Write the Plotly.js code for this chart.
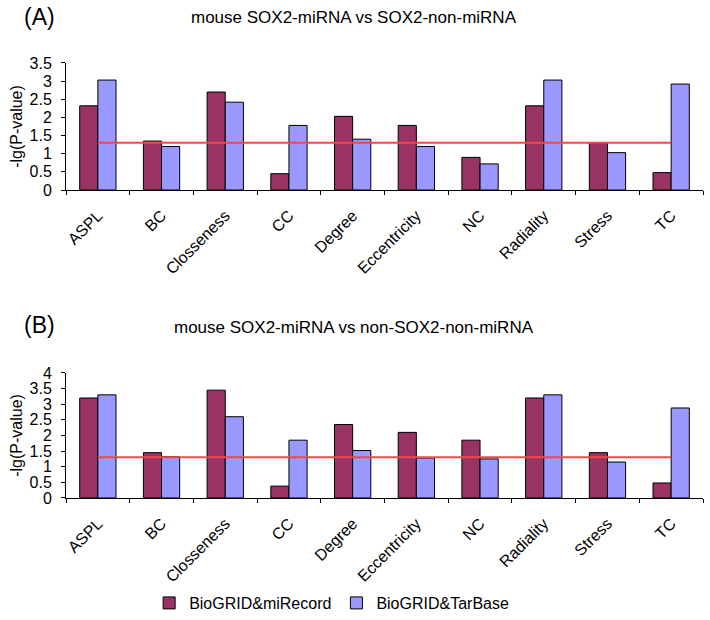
<!DOCTYPE html>
<html>
<head>
<meta charset="utf-8">
<script src="https://cdn.plot.ly/plotly-3.0.1.min.js"></script>
<style>
  body { margin: 0; background: #fff; }
  #chart { width: 710px; height: 620px; }
</style>
</head>
<body>
<div id="chart"></div>
<script>
// categories (network measures)
var measures = ["ASPL", "BC", "Closseness", "CC", "Degree", "Eccentricity", "NC", "Radiality", "Stress", "TC"];

// panel A: mouse SOX2-miRNA vs SOX2-non-miRNA
var aMiRecord = [2.32, 1.35, 2.7, 0.45, 2.03, 1.78, 0.9, 2.32, 1.3, 0.48];
var aTarBase  = [3.03, 1.2, 2.42, 1.78, 1.4, 1.2, 0.72, 3.03, 1.03, 2.92];

// panel B: mouse SOX2-miRNA vs non-SOX2-non-miRNA
var bMiRecord = [3.2, 1.45, 3.45, 0.38, 2.35, 2.1, 1.85, 3.2, 1.45, 0.48];
var bTarBase  = [3.3, 1.32, 2.6, 1.85, 1.52, 1.28, 1.25, 3.3, 1.15, 2.88];

// significance threshold, -lg(0.05)
var threshold = measures.map(() => 1.3);

var maroon = "#993366";
var lilac = "#9999ff";
var font = "Liberation Sans, Arial, sans-serif";

function bars(y, name, color, xa, ya, showleg) {
    return {
        x: measures, y: y, name: name, type: "bar",
        xaxis: xa, yaxis: ya, showlegend: showleg,
        marker: {color: color, line: {color: "#000", width: 1}}
    };
}
function redLine(xa, ya) {
    return {
        x: measures, y: threshold, type: "scatter", mode: "lines",
        xaxis: xa, yaxis: ya, showlegend: false,
        line: {color: "#f04848", width: 2}
    };
}

var data = [
    bars(aMiRecord, "BioGRID&miRecord", maroon, "x", "y", true),
    bars(aTarBase, "BioGRID&TarBase", lilac, "x", "y", true),
    redLine("x", "y"),
    bars(bMiRecord, "BioGRID&miRecord", maroon, "x2", "y2", false),
    bars(bTarBase, "BioGRID&TarBase", lilac, "x2", "y2", false),
    redLine("x2", "y2")
];

function xAxis(anchor) {
    return {
        anchor: anchor, domain: [0, 1], type: "category",
        showline: true, linecolor: "#000", linewidth: 1,
        ticks: "outside", tickson: "boundaries", ticklen: 4, tickcolor: "#000",
        tickangle: -45, ticklabelstandoff: 9, ticklabeloverflow: "allow",
        tickfont: {family: font, size: 16, color: "#000"},
        showgrid: false, zeroline: false
    };
}
function yAxis(anchor, domain, top) {
    return {
        anchor: anchor, domain: domain, range: [0, top], dtick: 0.5,
        showline: true, linecolor: "#000", linewidth: 1,
        ticks: "outside", ticklen: 4, tickcolor: "#000", ticklabelstandoff: 6,
        tickfont: {family: font, size: 16, color: "#000"},
        showgrid: false, zeroline: false,
        title: {text: "-lg(P-value)", font: {family: font, size: 16, color: "#000"}, standoff: 2}
    };
}

var layout = {
    width: 710, height: 620,
    margin: {l: 66, r: 7, t: 0, b: 0},
    paper_bgcolor: "#fff", plot_bgcolor: "#fff",
    barmode: "group", bargap: 0.43, bargroupgap: 0,
    xaxis: xAxis("y"),
    yaxis: yAxis("x", [0.6935, 0.8984], 3.5),
    xaxis2: xAxis("y2"),
    yaxis2: yAxis("x2", [0.1968, 0.3984], 4),
    legend: {
        orientation: "h", x: 0.417, xanchor: "center", y: 0, yanchor: "bottom",
        bgcolor: "rgba(0,0,0,0)",
        font: {family: font, size: 16, color: "#000"}, traceorder: "normal"
    },
    annotations: [
        {text: "(A)", xref: "paper", yref: "paper", x: -0.069, y: 1 - 17 / 620, xanchor: "left", yanchor: "middle",
         showarrow: false, font: {family: font, size: 23, color: "#000"}},
        {text: "mouse SOX2-miRNA vs SOX2-non-miRNA", xref: "paper", yref: "paper", x: 0.452, y: 1 - 17 / 620,
         xanchor: "center", yanchor: "middle", showarrow: false, font: {family: font, size: 17, color: "#000"}},
        {text: "(B)", xref: "paper", yref: "paper", x: -0.069, y: 1 - 325 / 620, xanchor: "left", yanchor: "middle",
         showarrow: false, font: {family: font, size: 23, color: "#000"}},
        {text: "mouse SOX2-miRNA vs non-SOX2-non-miRNA", xref: "paper", yref: "paper", x: 0.452, y: 1 - 327 / 620,
         xanchor: "center", yanchor: "middle", showarrow: false, font: {family: font, size: 17, color: "#000"}}
    ]
};

Plotly.newPlot("chart", data, layout, {displayModeBar: false, staticPlot: true});
</script>
</body>
</html>
